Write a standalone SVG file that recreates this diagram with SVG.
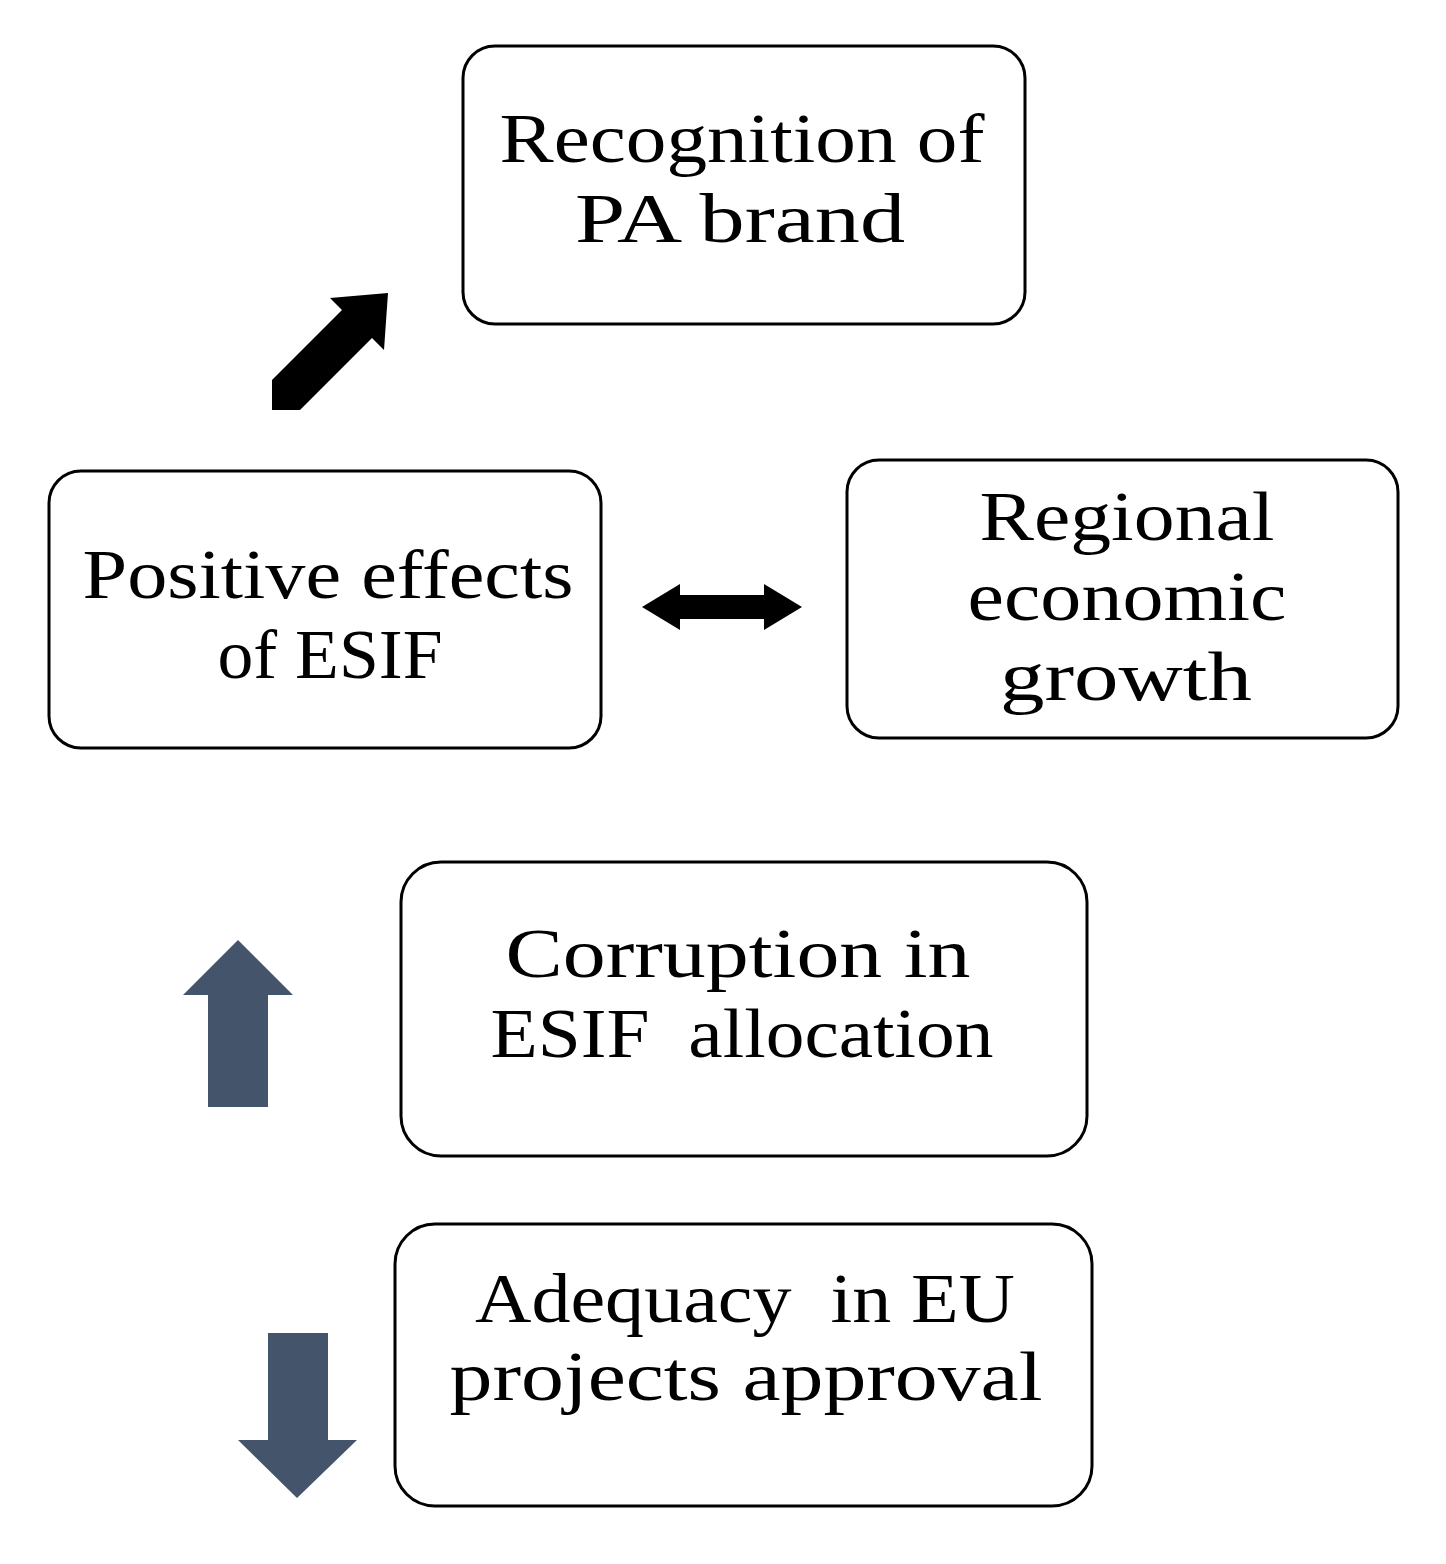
<svg xmlns="http://www.w3.org/2000/svg" width="1446" height="1564" viewBox="0 0 1446 1564">
<style>
.box{fill:#fff;stroke:#000;stroke-width:3}
.t{font-family:"Liberation Serif",serif;font-size:70px;fill:#000;text-anchor:middle}
</style>
<rect width="1446" height="1564" fill="#fff"/>
<g id="n1"><rect class="box" x="463" y="46" width="562" height="278" rx="32"/>
<text class="t" x="742" y="162" textLength="485" lengthAdjust="spacingAndGlyphs">Recognition of</text><text class="t" x="740" y="242" textLength="330" lengthAdjust="spacingAndGlyphs">PA brand</text></g>
<g id="n2"><rect class="box" x="49" y="471" width="552" height="277" rx="32"/>
<text class="t" x="328" y="598" textLength="491" lengthAdjust="spacingAndGlyphs">Positive effects</text><text class="t" x="330" y="678" textLength="225" lengthAdjust="spacingAndGlyphs">of ESIF</text></g>
<g id="n3"><rect class="box" x="847" y="460" width="551" height="278" rx="32"/>
<text class="t" x="1127" y="540" textLength="295" lengthAdjust="spacingAndGlyphs">Regional</text><text class="t" x="1127" y="620" textLength="319" lengthAdjust="spacingAndGlyphs">economic</text><text class="t" x="1126" y="700" textLength="252" lengthAdjust="spacingAndGlyphs">growth</text></g>
<g id="n4"><rect class="box" x="401" y="862" width="686" height="294" rx="40"/>
<text class="t" x="738" y="977" textLength="465" lengthAdjust="spacingAndGlyphs">Corruption in</text><text class="t" x="742" y="1057" textLength="503" lengthAdjust="spacingAndGlyphs" xml:space="preserve">ESIF  allocation</text></g>
<g id="n5"><rect class="box" x="395" y="1224" width="697" height="282" rx="40"/>
<text class="t" x="745" y="1322" textLength="540" lengthAdjust="spacingAndGlyphs" xml:space="preserve">Adequacy  in EU</text><text class="t" x="746" y="1400" textLength="593" lengthAdjust="spacingAndGlyphs">projects approval</text></g>
<g id="connectors">
<polygon fill="#000" points="272,380 342,310 330,298 388,293 384,350 372,338 300,410 272,410"/>
<polygon fill="#000" points="642,607 680,584 680,595 764,595 764,584 802,607 764,630 764,619 680,619 680,630"/>
<polygon fill="#44546a" points="238,940 293,995 268,995 268,1107 208,1107 208,995 183,995"/>
<polygon fill="#44546a" points="268,1333 328,1333 328,1440 357,1440 297,1498 238,1440 268,1440"/>
</g>
</svg>
